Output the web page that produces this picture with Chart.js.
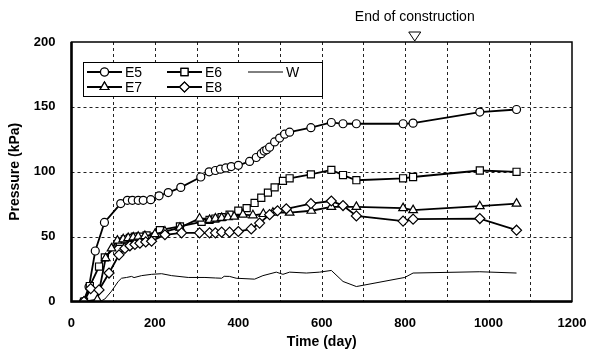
<!DOCTYPE html>
<html>
<head>
<meta charset="utf-8">
<script src="https://cdn.jsdelivr.net/npm/chart.js@4/dist/chart.umd.min.js"></script>
<style>
  html, body { margin: 0; padding: 0; background: #fff; }
  #wrap { width: 589px; height: 349px; }
</style>
</head>
<body>
<div id="wrap"><canvas id="pressureChart" width="589" height="349"></canvas></div>
<script>
// Earth pressure readings (kPa) against time (day)
const e5Days = [29, 42, 57, 79, 118, 134, 146, 160, 172, 190, 210, 232, 262, 310, 330, 345, 357, 370, 383, 400, 427, 443, 455, 462, 468, 475, 487, 499, 511, 523, 574, 623, 651, 683, 795, 819, 979, 1067];
const e5Values = [0, 11.5, 39, 61, 75.5, 78, 78, 78, 78, 78.5, 81.5, 84, 88, 96, 100, 101, 102, 103, 104, 105, 108, 111, 114, 116, 117, 119, 123, 126, 129, 130.5, 134, 138, 137, 137, 137, 137.5, 146, 148];

const e6Days = [30, 44, 66, 80, 116, 128, 140, 152, 164, 180, 212, 260, 312, 331, 345, 360, 379, 400, 420, 439, 455, 471, 487, 507, 523, 574, 623, 651, 683, 795, 819, 979, 1067];
const e6Values = [0, 12, 27, 34, 46, 48, 49, 50, 50, 51, 55, 58, 61.5, 63, 64, 65, 67, 70, 72, 76, 80, 84, 88, 93, 95, 98, 101.5, 97.5, 93.5, 95, 96, 101, 100];

const e7Days = [30, 62, 82, 96, 110, 124, 136, 148, 160, 176, 200, 224, 260, 307, 331, 345, 360, 375, 390, 411, 435, 460, 483, 523, 575, 623, 683, 795, 819, 979, 1067];
const e7Values = [0, 1.5, 33.5, 41, 47, 48, 49, 49.5, 50, 50.5, 52, 54, 57, 64, 63, 64, 64.5, 65, 65.5, 67, 66.5, 67.5, 68.5, 68.5, 70, 73, 73, 72, 70.5, 73.5, 75.5];

const e8Days = [30, 46, 66, 90, 114, 128, 140, 152, 164, 178, 192, 224, 264, 307, 331, 345, 360, 379, 400, 431, 451, 475, 494, 515, 574, 623, 651, 683, 795, 819, 979, 1067];
const e8Values = [0, 10, 9, 22, 36, 41, 43, 44, 45, 46, 46.5, 51.5, 53, 53, 53, 53, 53.5, 53.5, 54, 56, 60.5, 67, 70, 71.5, 75.5, 77.5, 74, 66, 62, 63.5, 64, 55];

const wDays = [68, 80, 96, 112, 120, 132, 144, 150, 168, 192, 216, 240, 280, 320, 345, 360, 366, 379, 395, 439, 459, 491, 507, 523, 563, 595, 623, 651, 683, 799, 819, 979, 1067];
const wValues = [0, 2, 8, 15.5, 18, 18.6, 19.4, 18.5, 20, 21, 21.5, 20, 18.6, 18.6, 18.2, 18, 19.5, 19.4, 18, 17.3, 20, 22.7, 21, 22.7, 22, 22.7, 24, 15.5, 11.6, 18.6, 22, 23, 22];

const endOfConstructionDay = 823;
const xTicks = [0, 200, 400, 600, 800, 1000, 1200];
const yTicks = [0, 50, 100, 150, 200];
const xGridStep = 100;
const yGridStep = 50;

const FONT = "'Liberation Sans', Arial, sans-serif";

function toPoints(days, values) {
    return days.map((d, i) => ({ x: d, y: values[i] }));
}

function series(label, days, values, style, radius) {
    return {
        label: label,
        data: toPoints(days, values),
        borderColor: '#000',
        borderWidth: 1.8,
        pointStyle: style,
        pointRadius: radius,
        pointBackgroundColor: '#fff',
        pointBorderColor: '#000',
        pointBorderWidth: 1.2,
        tension: 0,
        fill: false
    };
}

const datasets = [
    Object.assign(series('W', wDays, wValues, false, 0), { borderWidth: 1 }),
    series('E8', e8Days, e8Values, 'rectRot', 5),
    series('E7', e7Days, e7Values, 'triangle', 5),
    series('E6', e6Days, e6Values, 'rect', 5),
    series('E5', e5Days, e5Values, 'circle', 4)
];

// Draws a marker glyph for the legend
function drawMarker(ctx, style, radius, x, y) {
    if (Chart.helpers && Chart.helpers.drawPoint) {
        Chart.helpers.drawPoint(ctx, { pointStyle: style, radius: radius, rotation: 0, borderWidth: 1.2 }, x, y);
        ctx.fill();
        ctx.stroke();
    } else {
        ctx.beginPath();
        ctx.arc(x, y, radius, 0, Math.PI * 2);
        ctx.fill();
        ctx.stroke();
    }
}

// Dashed grid behind the data
const dashedGrid = {
    id: 'dashedGrid',
    beforeDatasetsDraw(chart) {
        const ctx = chart.ctx;
        const area = chart.chartArea;
        const xs = chart.scales.x;
        const ys = chart.scales.y;
        ctx.save();
        ctx.strokeStyle = '#222';
        ctx.lineWidth = 1;
        ctx.setLineDash([3, 3]);
        for (let v = xs.min + xGridStep; v < xs.max; v += xGridStep) {
            const px = Math.round(xs.getPixelForValue(v)) + 0.5;
            ctx.beginPath();
            ctx.moveTo(px, area.top);
            ctx.lineTo(px, area.bottom);
            ctx.stroke();
        }
        for (let v = ys.min + yGridStep; v < ys.max; v += yGridStep) {
            const py = Math.round(ys.getPixelForValue(v)) + 0.5;
            ctx.beginPath();
            ctx.moveTo(area.left, py);
            ctx.lineTo(area.right, py);
            ctx.stroke();
        }
        ctx.restore();
    }
};

// Frame, legend box and end-of-construction marker
const decorations = {
    id: 'decorations',
    afterDraw(chart) {
        const ctx = chart.ctx;
        const area = chart.chartArea;
        const xs = chart.scales.x;

        ctx.save();
        // frame
        ctx.strokeStyle = '#000';
        ctx.lineWidth = 1.5;
        ctx.strokeRect(area.left, area.top, area.right - area.left, area.bottom - area.top);
        ctx.lineWidth = 2.5;
        ctx.beginPath();
        ctx.moveTo(area.left, area.top);
        ctx.lineTo(area.left, area.bottom);
        ctx.lineTo(area.right, area.bottom);
        ctx.stroke();

        // legend box
        const box = { x: 83, y: 62, w: 239, h: 34 };
        ctx.fillStyle = '#fff';
        ctx.fillRect(box.x, box.y, box.w, box.h);
        ctx.strokeStyle = '#000';
        ctx.lineWidth = 1;
        ctx.strokeRect(box.x + 0.5, box.y + 0.5, box.w, box.h);

        const items = [
            { label: 'E5', style: 'circle', r: 4, x: 87, y: 72 },
            { label: 'E6', style: 'rect', r: 5, x: 167, y: 72 },
            { label: 'W', style: null, r: 0, x: 248, y: 72 },
            { label: 'E7', style: 'triangle', r: 5, x: 87, y: 87 },
            { label: 'E8', style: 'rectRot', r: 5, x: 167, y: 87 }
        ];
        ctx.font = '14px ' + FONT;
        ctx.textBaseline = 'middle';
        items.forEach(it => {
            ctx.strokeStyle = '#000';
            ctx.lineWidth = it.style ? 1.8 : 1;
            ctx.beginPath();
            ctx.moveTo(it.x, it.y);
            ctx.lineTo(it.x + 35, it.y);
            ctx.stroke();
            if (it.style) {
                ctx.fillStyle = '#fff';
                ctx.lineWidth = 1.2;
                drawMarker(ctx, it.style, it.r, it.x + 17.5, it.y);
            }
            ctx.fillStyle = '#000';
            ctx.fillText(it.label, it.x + 38, it.y + 1);
        });

        // end of construction
        const ex = xs.getPixelForValue(endOfConstructionDay);
        ctx.font = '14px ' + FONT;
        ctx.textAlign = 'center';
        ctx.textBaseline = 'middle';
        ctx.fillStyle = '#000';
        ctx.fillText('End of construction', ex, 17);
        ctx.beginPath();
        ctx.moveTo(ex - 6, area.top - 10);
        ctx.lineTo(ex + 6, area.top - 10);
        ctx.lineTo(ex, area.top - 1);
        ctx.closePath();
        ctx.fillStyle = '#fff';
        ctx.fill();
        ctx.lineWidth = 1;
        ctx.stroke();
        ctx.restore();
    }
};

const ctx = document.getElementById('pressureChart').getContext('2d');
const pressureChart = new Chart(ctx, {
    type: 'line',
    data: { datasets: datasets },
    options: {
        responsive: false,
        animation: false,
        layout: { padding: { left: 0, right: 17, top: 42, bottom: 0 } },
        plugins: {
            legend: { display: false },
            tooltip: { enabled: false }
        },
        scales: {
            x: {
                type: 'linear',
                min: 0,
                max: 1200,
                afterBuildTicks: axis => {
                    axis.ticks = xTicks.map(v => ({ value: v }));
                },
                afterFit: axis => {
                    axis.paddingLeft = 0;
                    axis.paddingRight = 0;
                },
                ticks: {
                    color: '#000',
                    font: { family: FONT, size: 13, weight: 'bold' },
                    padding: 14.5,
                    maxRotation: 0,
                    autoSkip: false,
                    callback: v => String(v)
                },
                grid: { display: false, drawTicks: false },
                border: { display: false },
                title: {
                    display: true,
                    text: 'Time (day)',
                    color: '#000',
                    font: { family: FONT, size: 14, weight: 'bold' },
                    padding: { top: -12, bottom: -2 }
                }
            },
            y: {
                min: 0,
                max: 200,
                afterBuildTicks: axis => {
                    axis.ticks = yTicks.map(v => ({ value: v }));
                },
                ticks: {
                    color: '#000',
                    font: { family: FONT, size: 13, weight: 'bold' },
                    padding: 16
                },
                grid: { display: false, drawTicks: false },
                border: { display: false },
                title: {
                    display: true,
                    text: 'Pressure (kPa)',
                    color: '#000',
                    font: { family: FONT, size: 14, weight: 'bold' },
                    padding: { top: 7, bottom: -6 }
                }
            }
        }
    },
    plugins: [dashedGrid, decorations]
});
</script>
</body>
</html>
